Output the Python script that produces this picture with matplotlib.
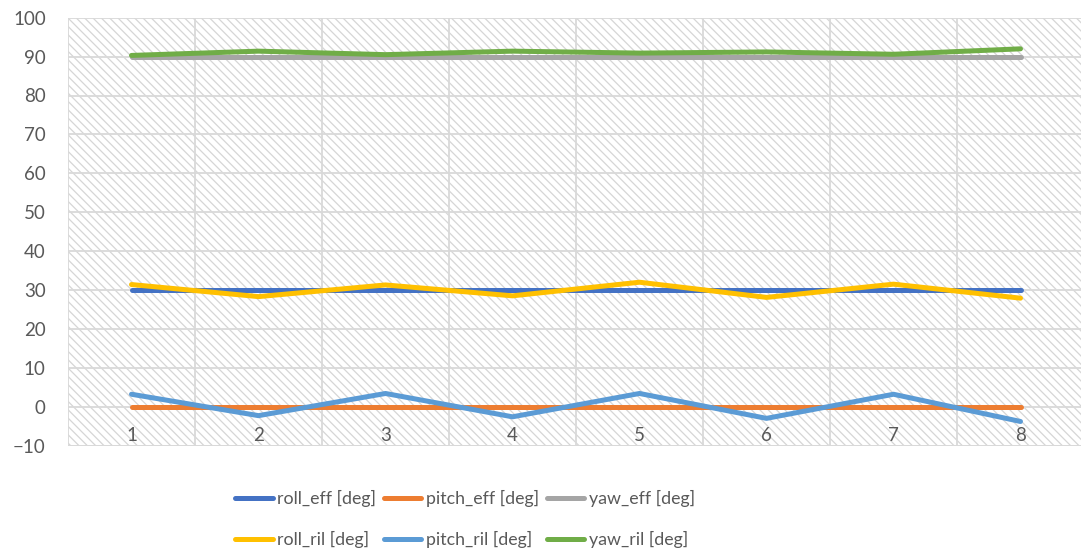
import matplotlib
matplotlib.use("Agg")
import matplotlib.pyplot as plt
from matplotlib.patches import Rectangle

plt.rcParams['font.family'] = ['Lato', 'DejaVu Sans']
plt.rcParams['hatch.linewidth'] = 0.9

# Samples and measured angles
samples = [1, 2, 3, 4, 5, 6, 7, 8]
roll_eff = [30, 30, 30, 30, 30, 30, 30, 30]
pitch_eff = [0, 0, 0, 0, 0, 0, 0, 0]
yaw_eff = [90, 90, 90, 90, 90, 90, 90, 90]
roll_ril = [31.4, 28.3, 31.3, 28.5, 32.0, 28.1, 31.5, 27.9]
pitch_ril = [3.2, -2.3, 3.4, -2.6, 3.4, -3.0, 3.2, -3.8]
yaw_ril = [90.3, 91.4, 90.5, 91.4, 90.9, 91.2, 90.6, 92.0]

series_names = ["roll_eff [deg]", "pitch_eff [deg]", "yaw_eff [deg]",
                "roll_ril [deg]", "pitch_ril [deg]", "yaw_ril [deg]"]
series_values = [roll_eff, pitch_eff, yaw_eff, roll_ril, pitch_ril, yaw_ril]
series_colors = ["#4472C4", "#ED7D31", "#A5A5A5", "#FFC000", "#5B9BD5", "#70AD47"]

y_ticks = [-10, 0, 10, 20, 30, 40, 50, 60, 70, 80, 90, 100]

W, H = 1081, 554
fig = plt.figure(figsize=(W / 100, H / 100), dpi=100)
ax = fig.add_axes([68 / W, (H - 445.6) / H, 1016 / W, 427.9 / H])

text_color = "#595959"
grid_color = "#d9d9d9"

# hatched plot-area background
bg = Rectangle((0, 0), 1, 1, transform=ax.transAxes, facecolor="white",
               edgecolor="#d6d6d6", hatch="\\\\\\\\", linewidth=0, zorder=0.1)
ax.add_patch(bg)
ax.patch.set_visible(False)

ax.set_xlim(0.5, 8.5)
ax.set_ylim(-10, 100)
ax.set_axisbelow(True)

ax.set_yticks(y_ticks)
ax.set_xticks(samples)
ax.set_xticks([s + 0.5 for s in [0] + samples], minor=True)
ax.grid(axis="y", which="major", color=grid_color, linewidth=1.3)
ax.grid(axis="x", which="minor", color=grid_color, linewidth=1.3)
ax.tick_params(axis="y", length=0, pad=16, labelsize=13.5, labelcolor=text_color)
ax.tick_params(axis="x", which="major", length=0, pad=-13.5, labelsize=13.5,
               labelcolor=text_color)
ax.tick_params(axis="x", which="minor", length=0)
for s in ax.spines.values():
    s.set_visible(False)
ax.axhline(-10, color=grid_color, linewidth=1.3, zorder=0.6)

handles = []
for name, vals, col in zip(series_names, series_values, series_colors):
    ln, = ax.plot(samples, vals, color=col, linewidth=3.6, label=name,
                  solid_capstyle="round", solid_joinstyle="round", zorder=3)
    handles.append(ln)

# legend: three columns, filled row by row
order = [0, 3, 1, 4, 2, 5]
leg = fig.legend([handles[i] for i in order], [series_names[i] for i in order],
                 ncol=3, loc="center", bbox_to_anchor=(465 / W, (H - 519) / H),
                 frameon=False, fontsize=12.8, handlelength=2.1,
                 handletextpad=0.25, columnspacing=0.45, labelspacing=1.35,
                 labelcolor=text_color)

fig.savefig("out.png", dpi=100)
